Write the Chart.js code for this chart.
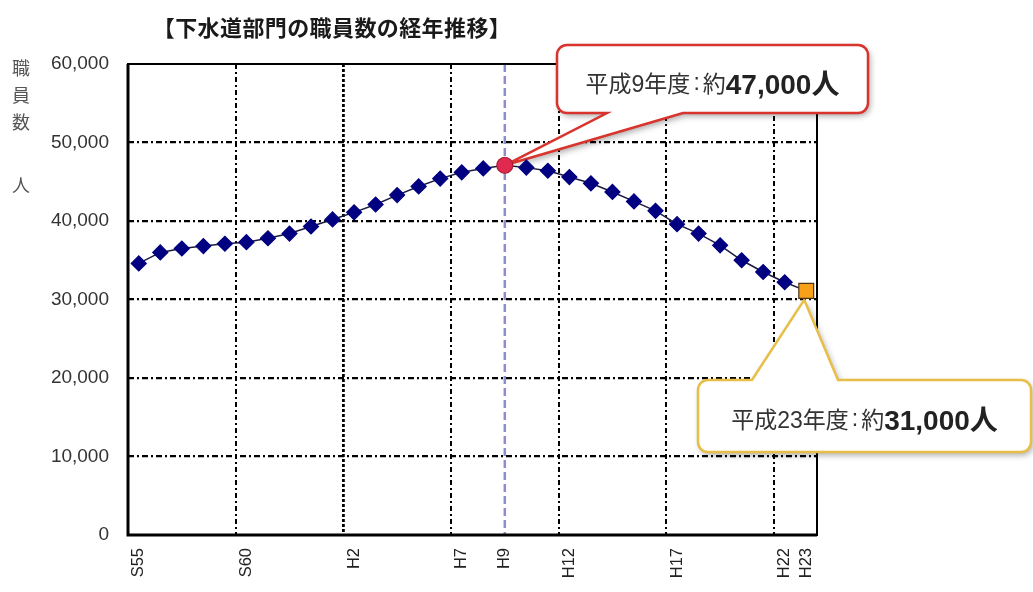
<!DOCTYPE html>
<html lang="ja">
<head>
<meta charset="utf-8">
<title>下水道部門の職員数の経年推移</title>
<script src="https://cdn.jsdelivr.net/npm/chart.js@4.4.1/dist/chart.umd.min.js"></script>
<style>
  html, body { margin: 0; padding: 0; background: #fff; }
  #wrap { position: relative; width: 1033px; height: 592px; overflow: hidden; font-family: "Noto Sans CJK JP", sans-serif; }
  #wrap canvas { position: absolute; left: 0; top: 0; }
  .title { position: absolute; left: 132px; top: 13px; width: 400px; text-align: center; font-weight: bold; font-size: 22px; letter-spacing: 0.4px; color: #1a1a1a; line-height: 26px; }
  .ytitle { position: absolute; left: 9px; width: 24px; text-align: center; font-size: 18px; color: #555; line-height: 27px; }
  .note { position: absolute; display: flex; align-items: center; justify-content: center; color: #333; white-space: nowrap;
          font-family: "Liberation Sans", "Noto Sans CJK JP", sans-serif; font-size: 23px; }
  .note .sep { margin: 0 3px; }
  .note b { font-size: 28px; color: #222; }
</style>
</head>
<body>
<div id="wrap">
  <canvas id="staffChart" width="1033" height="592"></canvas>
  <div class="title">【下水道部門の職員数の経年推移】</div>
  <div class="ytitle" style="top:54px">職<br>員<br>数</div>
  <div class="ytitle" style="top:171px">人</div>
  <div class="note" style="left:557px; top:48px; width:311px; height:68px;">平成9年度<span class="sep">:</span>約<b>47,000人</b></div>
  <div class="note" style="left:698px; top:382px; width:333px; height:72px;">平成23年度<span class="sep">:</span>約<b>31,000人</b></div>
</div>
<script>
// fiscal years S55 (1980) .. H23 (2011)
const categories = ['S55', 'S56', 'S57', 'S58', 'S59', 'S60', 'S61', 'S62', 'S63',
    'H1', 'H2', 'H3', 'H4', 'H5', 'H6', 'H7', 'H8', 'H9', 'H10', 'H11', 'H12',
    'H13', 'H14', 'H15', 'H16', 'H17', 'H18', 'H19', 'H20', 'H21', 'H22', 'H23'];

const staff = [34600, 36000, 36500, 36800, 37100, 37300, 37800, 38400, 39300,
    40200, 41100, 42100, 43300, 44400, 45400, 46200, 46700, 47100, 46800, 46400, 45600,
    44800, 43700, 42500, 41300, 39600, 38400, 36900, 35000, 33500, 32200, 31100];

const shownTicks = ['S55', 'S60', 'H2', 'H7', 'H9', 'H12', 'H17', 'H22', 'H23'];
const gridBefore = ['S60', 'H2', 'H7', 'H12', 'H17', 'H22'];
const yTicks = [0, 10000, 20000, 30000, 40000, 50000, 60000];

const peakYear = 'H9';
const lastYear = 'H23';

// rounded box with a pointer to the tip
const calloutPath = (ctx, box, tail, tip) => {
    const { l, t, r, b } = box, rad = 10;
    ctx.beginPath();
    ctx.moveTo(l + rad, t);
    if (tail.side === 'top') {
        ctx.lineTo(tail.from, t);
        ctx.lineTo(tip.x, tip.y);
        ctx.lineTo(tail.to, t);
    }
    ctx.lineTo(r - rad, t);
    ctx.arcTo(r, t, r, t + rad, rad);
    ctx.lineTo(r, b - rad);
    ctx.arcTo(r, b, r - rad, b, rad);
    if (tail.side === 'bottom') {
        ctx.lineTo(tail.to, b);
        ctx.lineTo(tip.x, tip.y);
        ctx.lineTo(tail.from, b);
    }
    ctx.lineTo(l + rad, b);
    ctx.arcTo(l, b, l, b - rad, rad);
    ctx.lineTo(l, t + rad);
    ctx.arcTo(l, t, l + rad, t, rad);
    ctx.closePath();
};

const drawCallout = (ctx, box, tail, tip, stroke) => {
    ctx.save();
    calloutPath(ctx, box, tail, tip);
    ctx.shadowColor = 'rgba(0,0,0,0.35)';
    ctx.shadowBlur = 6;
    ctx.shadowOffsetX = 2;
    ctx.shadowOffsetY = 3;
    ctx.fillStyle = '#fff';
    ctx.fill();
    ctx.shadowColor = 'transparent';
    ctx.lineWidth = 2.5;
    ctx.strokeStyle = stroke;
    ctx.stroke();
    ctx.restore();
};

const framePlugin = {
    id: 'frame',
    beforeDatasetsDraw(chart) {
        const { ctx, chartArea: a, scales: { x, y } } = chart;
        ctx.save();

        // H9 marker line
        const px = x.getPixelForValue(categories.indexOf(peakYear));
        ctx.strokeStyle = 'rgba(120,120,200,0.85)';
        ctx.lineWidth = 2.5;
        ctx.setLineDash([8, 4]);
        ctx.beginPath();
        ctx.moveTo(px, a.top);
        ctx.lineTo(px, a.bottom);
        ctx.stroke();
        ctx.setLineDash([]);

        // plot box
        ctx.strokeStyle = '#000';
        ctx.lineWidth = 2;
        ctx.strokeRect(a.left, a.top, a.right - a.left, a.bottom - a.top);
        ctx.lineWidth = 3;
        ctx.beginPath();
        ctx.moveTo(a.left, a.top);
        ctx.lineTo(a.left, a.bottom);
        ctx.lineTo(a.right, a.bottom);
        ctx.stroke();
        ctx.restore();

        // callouts
        const i9 = categories.indexOf(peakYear);
        const i23 = categories.indexOf(lastYear);
        drawCallout(ctx, { l: 557, t: 45, r: 868, b: 113 }, { side: 'bottom', from: 607, to: 683 },
            { x: x.getPixelForValue(i9), y: y.getPixelForValue(staff[i9]) }, '#d8332c');
        drawCallout(ctx, { l: 698, t: 380, r: 1031, b: 452 }, { side: 'top', from: 752, to: 838 },
            { x: x.getPixelForValue(i23) - 2, y: y.getPixelForValue(staff[i23]) + 9 }, '#e6be48');
    }
};

const pointStyleAt = i => {
    const c = categories[i];
    if (c === peakYear) return 'circle';
    if (c === lastYear) return 'rect';
    return 'rectRot';
};

new Chart(document.getElementById('staffChart'), {
    type: 'line',
    data: {
        labels: categories,
        datasets: [{
            data: staff,
            borderColor: '#1b1b40',
            borderWidth: 1.5,
            tension: 0,
            pointStyle: ctx => pointStyleAt(ctx.dataIndex),
            pointRadius: ctx => {
                const s = pointStyleAt(ctx.dataIndex);
                return s === 'circle' ? 8 : s === 'rect' ? 10.5 : 7.5;
            },
            pointBackgroundColor: ctx => {
                const s = pointStyleAt(ctx.dataIndex);
                return s === 'circle' ? '#e0294f' : s === 'rect' ? '#f7a11b' : '#000080';
            },
            pointBorderColor: ctx => {
                const s = pointStyleAt(ctx.dataIndex);
                return s === 'circle' ? '#a81c34' : s === 'rect' ? '#4e3414' : '#000080';
            },
            pointBorderWidth: 1.2
        }]
    },
    options: {
        responsive: false,
        animation: false,
        layout: { padding: { left: 0, top: 64, right: 216, bottom: 0 } },
        plugins: {
            legend: { display: false },
            tooltip: { enabled: false }
        },
        scales: {
            x: {
                offset: true,
                grid: {
                    offset: true,
                    drawTicks: false,
                    color: ctx => gridBefore.includes(categories[ctx.index]) ? '#000' : 'rgba(0,0,0,0)',
                    lineWidth: ctx => categories[ctx.index] === 'H2' ? 2.8 : 2
                },
                border: {
                    display: false,
                    dash: ctx => categories[ctx.index] === 'H2' ? [3, 2] : [5, 3, 2, 3]
                },
                ticks: {
                    autoSkip: false,
                    minRotation: 90,
                    maxRotation: 90,
                    padding: 13,
                    color: '#222',
                    font: { family: 'Liberation Sans', size: 16.5 },
                    callback: (v, i) => shownTicks.includes(categories[i]) ? categories[i] : ''
                },
                afterFit: scale => { scale.height = 57; }
            },
            y: {
                min: yTicks[0],
                max: yTicks[yTicks.length - 1],
                afterBuildTicks: scale => { scale.ticks = yTicks.map(v => ({ value: v })); },
                grid: {
                    drawTicks: false,
                    color: ctx => (ctx.tick && ctx.tick.value > 0 && ctx.tick.value < 60000) ? '#000' : 'rgba(0,0,0,0)',
                    lineWidth: 2.2
                },
                border: { display: false, dash: [6, 3, 2, 3] },
                ticks: {
                    padding: 19,
                    color: '#333',
                    font: { family: 'Liberation Sans', size: 19 },
                    callback: v => v.toLocaleString('en-US')
                },
                afterFit: scale => { scale.width = 128; }
            }
        }
    },
    plugins: [framePlugin]
});
</script>
</body>
</html>
